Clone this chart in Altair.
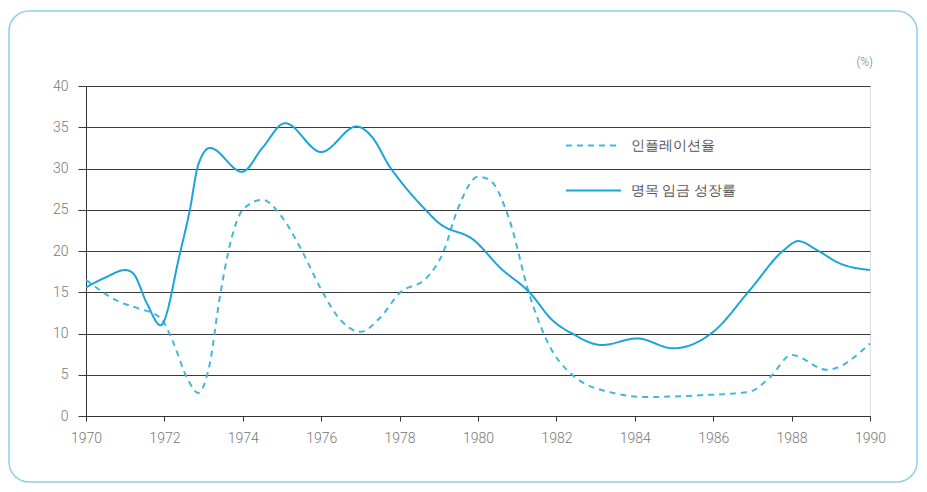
import altair as alt
import pandas as pd

# ---- data ----
series_names = ["인플레이션율", "명목 임금 성장률"]

wage_years = [1970, 1970.5, 1971.0, 1971.2, 1971.55, 1971.9, 1972.4, 1972.65, 1972.86, 1973.16,
              1973.98, 1974.5, 1975.08, 1976.0, 1976.9, 1977.3, 1977.75, 1978.0, 1978.6, 1979.0,
              1979.9, 1980.56, 1981.33, 1981.9, 1982.4, 1983.16, 1984.06, 1984.98, 1986.0,
              1986.94, 1987.8, 1988.17, 1988.65, 1989.23, 1990]
wage_values = [15.6, 16.8, 17.7, 17.3, 13.7, 11.0, 19.8, 25.0, 30.4, 32.5,
               29.6, 32.5, 35.5, 32.0, 35.1, 33.8, 30.2, 28.6, 25.3, 23.4,
               21.3, 18.0, 14.9, 11.6, 10.0, 8.6, 9.4, 8.2, 10.2,
               15.3, 20.1, 21.2, 20.1, 18.5, 17.7]

infl_years = [1970, 1970.87, 1971.3, 1971.9, 1972.2, 1972.6, 1972.86, 1973.16, 1973.4, 1973.7,
              1974.0, 1974.5, 1975.0, 1975.5, 1975.97, 1976.5, 1977.0, 1977.5, 1978.0, 1978.7,
              1979.1, 1979.5, 1980.0, 1980.3, 1980.8, 1981.3, 1981.75, 1982.4, 1983.44, 1984.3,
              1985.6, 1986.9, 1987.45, 1988.0, 1988.9, 1990]
infl_values = [16.5, 13.8, 13.1, 11.9, 9.2, 4.4, 2.8, 6.4, 14.0, 21.3,
               25.0, 26.2, 24.1, 20.1, 15.6, 11.6, 10.2, 11.9, 14.9, 16.8,
               19.7, 25.3, 29.0, 28.6, 23.8, 14.9, 9.2, 5.0, 2.8, 2.3,
               2.5, 2.9, 4.7, 7.4, 5.6, 8.8]

x_ticks = list(range(1970, 1991, 2))
y_ticks = list(range(0, 41, 5))
unit_label = "(%)"

df = pd.concat([
    pd.DataFrame({"year": infl_years, "value": infl_values, "series": series_names[0]}),
    pd.DataFrame({"year": wage_years, "value": wage_values, "series": series_names[1]}),
], ignore_index=True)

W, H = 784, 330
FONT = "Roboto"

legend_kw = dict(title=None, orient="none", legendX=479, legendY=31,
                 symbolType="stroke", symbolSize=3025, symbolStrokeWidth=2,
                 labelFontSize=14, labelColor="#555", labelFont=FONT,
                 labelOffset=9, rowPadding=9, padding=0)

lines = alt.Chart(df).mark_line(interpolate="monotone", strokeWidth=2).encode(
    x=alt.X("year:Q", scale=alt.Scale(domain=[1970, 1990], nice=False, zero=False),
            axis=alt.Axis(values=x_ticks, format="d", title=None, grid=False, labelFlush=False,
                          tickSize=5, tickColor="#333", domainColor="#333",
                          labelPadding=10, labelFontSize=14, labelColor="#777",
                          labelFont=FONT, labelFontWeight=300)),
    y=alt.Y("value:Q", scale=alt.Scale(domain=[0, 40], nice=False),
            axis=alt.Axis(values=y_ticks, title=None, grid=True, gridColor="#3a3a3a",
                          gridWidth=1.2, tickSize=8, tickColor="#3a3a3a", domainColor="#333",
                          labelFlush=False,
                          labelPadding=10, labelFontSize=14, labelColor="#777",
                          labelFont=FONT, labelFontWeight=300)),
    color=alt.Color("series:N", scale=alt.Scale(domain=series_names, range=["#42b6de", "#1aa4d8"]),
                    legend=alt.Legend(**legend_kw)),
    strokeDash=alt.StrokeDash("series:N", scale=alt.Scale(domain=series_names, range=[[6, 5], [1, 0]]),
                              legend=alt.Legend(**legend_kw)),
)

frame = alt.Chart(pd.DataFrame({"k": [0]})).mark_rect(
    fill="transparent", stroke="#8fd0ec", strokeWidth=1.5, cornerRadius=20
).encode(x=alt.value(-77), x2=alt.value(831), y=alt.value(-75), y2=alt.value(396))

pct = alt.Chart(pd.DataFrame({"t": [unit_label]})).mark_text(
    align="right", baseline="middle", fontSize=12, color="#777", font=FONT, fontWeight=300
).encode(x=alt.value(787), y=alt.value(-24), text="t:N")

chart = alt.layer(frame, lines, pct).properties(
    width=W, height=H,
    autosize=alt.AutoSizeParams(type="none"),
    padding={"left": 78, "top": 78, "right": 49, "bottom": 68},
).configure_view(stroke=None).configure(background="white")

chart.save("out.html", embed_options={"renderer": "svg", "actions": False})
